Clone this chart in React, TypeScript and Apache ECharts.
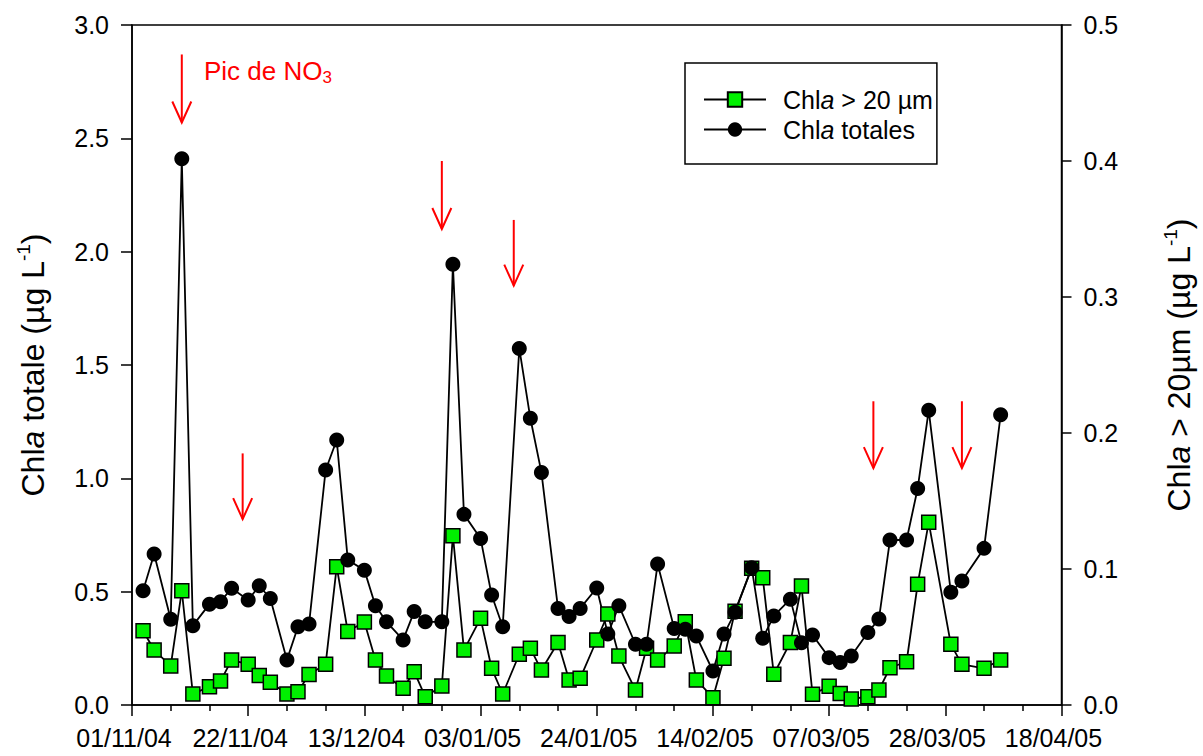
import React, { useEffect, useRef } from 'react';
import * as echarts from 'echarts';

const START_DATE = '2004-11-01';
const END_DATE = '2005-04-18';
const TICK_STEP_DAYS = 21;

const sampleDates = [
  '2004-11-03', '2004-11-05', '2004-11-08', '2004-11-10', '2004-11-12', '2004-11-15', '2004-11-17', '2004-11-19',
  '2004-11-22', '2004-11-24', '2004-11-26', '2004-11-29', '2004-12-01', '2004-12-03', '2004-12-06', '2004-12-08',
  '2004-12-10', '2004-12-13', '2004-12-15', '2004-12-17', '2004-12-20', '2004-12-22', '2004-12-24', '2004-12-27',
  '2004-12-29', '2004-12-31', '2005-01-03', '2005-01-05', '2005-01-07', '2005-01-10', '2005-01-12', '2005-01-14',
  '2005-01-17', '2005-01-19', '2005-01-21', '2005-01-24', '2005-01-26', '2005-01-28', '2005-01-31', '2005-02-02',
  '2005-02-04', '2005-02-07', '2005-02-09', '2005-02-11', '2005-02-14', '2005-02-16', '2005-02-18', '2005-02-21',
  '2005-02-23', '2005-02-25', '2005-02-28', '2005-03-02', '2005-03-04', '2005-03-07', '2005-03-09', '2005-03-11',
  '2005-03-14', '2005-03-16', '2005-03-18', '2005-03-21', '2005-03-23', '2005-03-25', '2005-03-29', '2005-03-31',
  '2005-04-04', '2005-04-07',
];

// Chla totales (µg L-1), left axis
const chlaTotales = [
  0.504, 0.666, 0.378, 2.41, 0.35, 0.445, 0.456, 0.515,
  0.463, 0.526, 0.47, 0.199, 0.345, 0.357, 1.037, 1.169,
  0.64, 0.595, 0.438, 0.367, 0.287, 0.412, 0.367, 0.367,
  1.944, 0.841, 0.735, 0.485, 0.345, 1.573, 1.265, 1.026,
  0.426, 0.39, 0.426, 0.516, 0.313, 0.438, 0.268, 0.268,
  0.622, 0.338, 0.334, 0.304, 0.15, 0.313, 0.409, 0.606,
  0.294, 0.393, 0.467, 0.275, 0.309, 0.209, 0.187, 0.216,
  0.32, 0.379, 0.728, 0.728, 0.955, 1.30, 0.497, 0.547,
  0.691, 1.28,
];

// Chla > 20 µm (µg L-1), right axis
const chlaSup20 = [
  0.0546, 0.0404, 0.0287, 0.084, 0.0081, 0.0135, 0.0176, 0.033,
  0.030, 0.0216, 0.0167, 0.0081, 0.0098, 0.0225, 0.030, 0.1017,
  0.054, 0.061, 0.033, 0.0213, 0.0123, 0.0245, 0.0061, 0.014,
  0.1245, 0.0404, 0.0637, 0.027, 0.0081, 0.0373, 0.0417, 0.0257,
  0.046, 0.0184, 0.0196, 0.0478, 0.0669, 0.036, 0.011, 0.0417,
  0.033, 0.0434, 0.0613, 0.0184, 0.0054, 0.0343, 0.069, 0.1005,
  0.0936, 0.0226, 0.046, 0.0875, 0.0079, 0.0137, 0.0084, 0.0044,
  0.0061, 0.011, 0.0274, 0.0318, 0.0887, 0.1343, 0.0446, 0.0299,
  0.027, 0.0331,
];

// NO3 peaks: red arrows (left axis values)
const arrowDates = ['2004-11-10', '2004-11-21', '2004-12-27', '2005-01-09', '2005-03-15', '2005-03-31'];
const arrowTop = [2.87, 1.11, 2.40, 2.14, 1.34, 1.34];
const arrowBottom = [2.57, 0.82, 2.10, 1.85, 1.045, 1.045];

const noteDate = '2004-11-14';
const noteValue = 2.795;

const seriesNames = ['Chla > 20 µm', 'Chla totales'];

const FONT = '"Liberation Sans", Arial, Helvetica, sans-serif';
const DAY_MS = 86400000;

function toUTC(s: string): number {
  const [y, m, d] = s.split('-').map(Number);
  return Date.UTC(y, m - 1, d);
}
const startMs = toUTC(START_DATE);
function dayOffset(s: string): number {
  return Math.round((toUTC(s) - startMs) / DAY_MS);
}
function fmtDay(v: number): string {
  const dt = new Date(startMs + Math.round(v) * DAY_MS);
  const dd = String(dt.getUTCDate()).padStart(2, '0');
  const mm = String(dt.getUTCMonth() + 1).padStart(2, '0');
  const yy = String(dt.getUTCFullYear() % 100).padStart(2, '0');
  return `${dd}/${mm}/${yy}`;
}

export default function App() {
  const ref = useRef<HTMLDivElement>(null);

  useEffect(() => {
    if (!ref.current) return;
    const chart = echarts.init(ref.current, undefined, { renderer: 'svg' });

    const totData = sampleDates.map((d, i) => [dayOffset(d), chlaTotales[i]]);
    const supData = sampleDates.map((d, i) => [dayOffset(d), chlaSup20[i]]);
    const arrowData = arrowDates.map((d, i) => [dayOffset(d), arrowTop[i], arrowBottom[i]]);

    const axisLineStyle = { color: '#000', width: 1.5 };
    const titleRich = {
      n: { fontSize: 32, fontFamily: FONT, color: '#000', lineHeight: 37 },
      i: { fontSize: 32, fontFamily: FONT, color: '#000', fontStyle: 'italic', lineHeight: 37 },
      s: { fontSize: 19, fontFamily: FONT, color: '#000', verticalAlign: 'top', lineHeight: 14 },
    };
    const legendRich = {
      n: { fontSize: 25, fontFamily: FONT, color: '#000', lineHeight: 28 },
      i: { fontSize: 25, fontFamily: FONT, color: '#000', fontStyle: 'italic', lineHeight: 28 },
    };

    const option: any = {
      animation: false,
      backgroundColor: '#fff',
      grid: {
        left: 132, right: 126, top: 25, bottom: 51,
        show: true, borderColor: '#000', borderWidth: 1.5, backgroundColor: 'transparent',
      },
      legend: {
        data: seriesNames,
        orient: 'vertical',
        left: 685,
        top: 63,
        padding: [24, 4, 22, 18],
        itemGap: 5,
        itemWidth: 62,
        itemHeight: 18,
        borderColor: '#000',
        borderWidth: 1.5,
        backgroundColor: '#fff',
        selectedMode: false,
        formatter: (name: string) =>
          name === 'Chla > 20 µm' ? '{n|Chl}{i|a}{n| > 20 µm}' : '{n|Chl}{i|a}{n| totales}',
        textStyle: { rich: legendRich, padding: [0, 0, 0, 12], fontSize: 25, fontFamily: FONT, color: '#000' },
      },
      xAxis: {
        type: 'value',
        min: 0,
        max: dayOffset(END_DATE),
        interval: TICK_STEP_DAYS,
        axisLine: { show: true, onZero: false, lineStyle: axisLineStyle },
        axisTick: { show: true, length: 11, lineStyle: axisLineStyle },
        minorTick: { show: true, splitNumber: 3, length: 6, lineStyle: axisLineStyle },
        splitLine: { show: false },
        minorSplitLine: { show: false },
        axisLabel: {
          formatter: (v: number) => fmtDay(v),
          fontSize: 25,
          fontFamily: FONT,
          color: '#000',
          margin: 20,
          padding: [0, 16, 0, 0],
          showMinLabel: true,
          showMaxLabel: true,
        },
      },
      yAxis: [
        {
          type: 'value',
          position: 'left',
          min: 0,
          max: 3,
          interval: 0.5,
          axisLine: { show: true, lineStyle: axisLineStyle },
          axisTick: { show: true, length: 11, lineStyle: axisLineStyle },
          splitLine: { show: false },
          axisLabel: {
            formatter: (v: number) => v.toFixed(1),
            fontSize: 25, fontFamily: FONT, color: '#000', margin: 23,
          },
          name: '{n|Chl}{i|a}{n| totale (µg L}{s|-1}{n|)}',
          nameLocation: 'middle',
          nameGap: 81,
          nameRotate: 90,
          nameTextStyle: { rich: titleRich },
        },
        {
          type: 'value',
          position: 'right',
          min: 0,
          max: 0.5,
          interval: 0.1,
          axisLine: { show: true, lineStyle: axisLineStyle },
          axisTick: { show: true, length: 10, lineStyle: axisLineStyle },
          splitLine: { show: false },
          axisLabel: {
            formatter: (v: number) => v.toFixed(1),
            fontSize: 25, fontFamily: FONT, color: '#000', margin: 22,
          },
          name: '{n|Chl}{i|a}{n| > 20µm (µg L}{s|-1}{n|)}',
          nameLocation: 'middle',
          nameGap: 99,
          nameRotate: 90,
          nameTextStyle: { rich: titleRich },
        },
      ],
      series: [
        {
          name: seriesNames[0],
          type: 'line',
          yAxisIndex: 1,
          data: supData,
          symbol: 'rect',
          symbolSize: 14,
          showAllSymbol: true,
          lineStyle: { color: '#000', width: 1.8 },
          itemStyle: { color: '#00f000', borderColor: '#000', borderWidth: 1.5 },
          emphasis: { disabled: true },
        },
        {
          name: seriesNames[1],
          type: 'line',
          yAxisIndex: 0,
          data: totData,
          symbol: 'circle',
          symbolSize: 15,
          showAllSymbol: true,
          lineStyle: { color: '#000', width: 1.8 },
          itemStyle: { color: '#000' },
          emphasis: { disabled: true },
        },
        {
          name: 'arrows',
          type: 'custom',
          yAxisIndex: 0,
          silent: true,
          clip: false,
          data: arrowData,
          encode: { x: 0, y: [1, 2] },
          renderItem: (params: any, api: any) => {
            const t = api.coord([api.value(0), api.value(1)]);
            const b = api.coord([api.value(0), api.value(2)]);
            const st = { stroke: '#ff0000', lineWidth: 2, fill: 'none' };
            return {
              type: 'group',
              children: [
                { type: 'line', shape: { x1: t[0], y1: t[1], x2: b[0], y2: b[1] }, style: st },
                {
                  type: 'polyline',
                  shape: { points: [[b[0] - 9.5, b[1] - 21], [b[0], b[1]], [b[0] + 9.5, b[1] - 21]] },
                  style: st,
                },
              ],
            };
          },
        },
        {
          name: 'note',
          type: 'custom',
          yAxisIndex: 0,
          silent: true,
          clip: false,
          data: [[dayOffset(noteDate), noteValue]],
          encode: { x: 0, y: 1 },
          renderItem: (params: any, api: any) => {
            const p = api.coord([api.value(0), api.value(1)]);
            return {
              type: 'text',
              x: p[0],
              y: p[1],
              style: {
                text: '{n|Pic de NO}{s|3}',
                align: 'left',
                verticalAlign: 'middle',
                fill: '#ff0000',
                rich: {
                  n: { fontSize: 26, fontFamily: FONT, fill: '#ff0000', lineHeight: 30 },
                  s: { fontSize: 17, fontFamily: FONT, fill: '#ff0000', lineHeight: 12, verticalAlign: 'bottom' },
                },
              },
            };
          },
        },
      ],
    };

    chart.setOption(option);
    return () => chart.dispose();
  }, []);

  return (
    <div
      ref={ref}
      style={{ position: 'fixed', left: 0, top: 0, width: 1203, height: 756, background: '#fff' }}
    />
  );
}
